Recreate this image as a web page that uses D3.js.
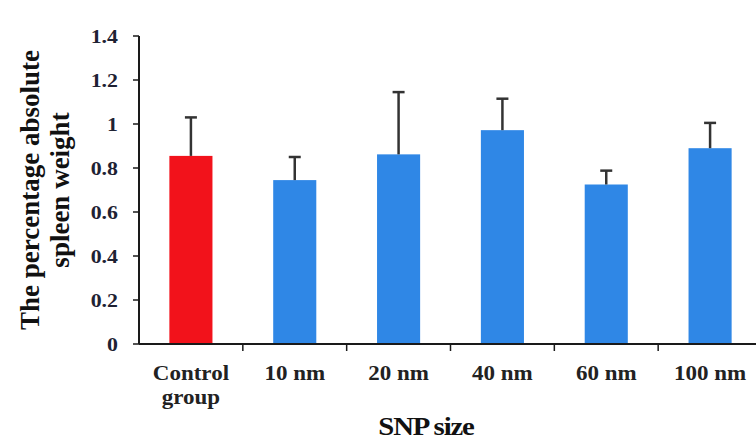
<!DOCTYPE html>
<html><head><meta charset="utf-8">
<script src="https://cdn.jsdelivr.net/npm/d3@7"></script>
<style>
html,body{margin:0;padding:0;background:#fff;}
svg{display:block;}
text{font-family:"Liberation Serif","Times New Roman",serif;font-weight:bold;}
</style></head>
<body>
<svg id="chart" width="756" height="442"></svg>
<script>
const categories = ["Control group", "10 nm", "20 nm", "40 nm", "60 nm", "100 nm"];
const means = [0.855, 0.745, 0.862, 0.972, 0.725, 0.89];
const errors = [0.175, 0.105, 0.283, 0.143, 0.063, 0.115];
const barColors = ["#f2121b", "#2f87e6", "#2f87e6", "#2f87e6", "#2f87e6", "#2f87e6"];
const yTicks = [0, 0.2, 0.4, 0.6, 0.8, 1, 1.2, 1.4];
const yTitle = ["The percentage absolute", "spleen weight"];
const xTitle = "SNP size";

const svg = d3.select("#chart");
const pLeft = 139, pRight = 762, pTop = 36, pBottom = 344;
const sx = 1.15;

const x = d3.scaleBand().domain(categories).range([pLeft, pRight]).paddingInner(0.585).paddingOuter(0.2925);
const y = d3.scaleLinear().domain([0, 1.4]).range([pBottom, pTop]);

// bars
svg.append("g").selectAll("rect").data(categories).join("rect")
  .attr("x", d => x(d)).attr("width", x.bandwidth())
  .attr("y", (d, i) => y(means[i])).attr("height", (d, i) => y(0) - y(means[i]))
  .attr("fill", (d, i) => barColors[i]);

// error bars
const eg = svg.append("g").attr("stroke", "#333").attr("stroke-width", 2.5);
categories.forEach((c, i) => {
  const cx = x(c) + x.bandwidth() / 2;
  eg.append("line").attr("x1", cx).attr("x2", cx).attr("y1", y(means[i])).attr("y2", y(means[i] + errors[i]));
  eg.append("line").attr("x1", cx - 6).attr("x2", cx + 6).attr("y1", y(means[i] + errors[i])).attr("y2", y(means[i] + errors[i]));
});

// y axis
const ya = svg.append("g");
ya.append("line").attr("x1", pLeft).attr("x2", pLeft).attr("y1", pTop).attr("y2", pBottom).attr("stroke", "#1a1a1a").attr("stroke-width", 2);
yTicks.forEach(t => {
  ya.append("line").attr("x1", pLeft - 6).attr("x2", pLeft).attr("y1", y(t)).attr("y2", y(t)).attr("stroke", "#1a1a1a").attr("stroke-width", 1.5);
  ya.append("text").attr("transform", `translate(118,${y(t) + 6.5}) scale(${sx},1)`)
    .attr("text-anchor", "end").attr("font-size", 19).attr("fill", "#1e2233").text(d3.format("~g")(t));
});

// x axis
const xa = svg.append("g");
xa.append("line").attr("x1", pLeft).attr("x2", 756).attr("y1", pBottom).attr("y2", pBottom).attr("stroke", "#1a1a1a").attr("stroke-width", 2.2);
const step = x.step();
categories.forEach((c, i) => {
  const bx = pLeft + (i + 1) * step;
  xa.append("line").attr("x1", bx).attr("x2", bx).attr("y1", pBottom).attr("y2", pBottom + 7).attr("stroke", "#1a1a1a").attr("stroke-width", 1.5);
  const cx = x(c) + x.bandwidth() / 2;
  const lines = c === "Control group" ? ["Control", "group"] : [c];
  lines.forEach((ln, j) => {
    xa.append("text").attr("transform", `translate(${cx},${380 + j * 24}) scale(${sx},1)`)
      .attr("text-anchor", "middle").attr("font-size", 20).attr("fill", "#222").text(ln);
  });
});

// titles
svg.append("text").attr("transform", `translate(426,435) scale(${sx},1)`).attr("text-anchor", "middle")
  .attr("font-size", 25).attr("fill", "#111").attr("letter-spacing", -1).text(xTitle);
yTitle.forEach((t, j) => {
  svg.append("text").attr("transform", `translate(${39 + j * 30},190) rotate(-90)`).attr("text-anchor", "middle")
    .attr("font-size", 27).attr("fill", "#111").text(t);
});
</script>
</body></html>
